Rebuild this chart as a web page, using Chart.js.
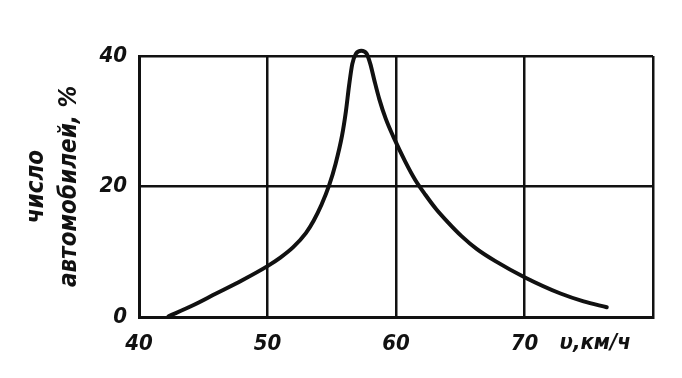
<!DOCTYPE html>
<html>
<head>
<meta charset="utf-8">
<script src="https://cdn.jsdelivr.net/npm/chart.js@4"></script>
<style>
  html, body { margin: 0; padding: 0; background: #fff; }
  #wrap { width: 682px; height: 378px; }
</style>
</head>
<body>
<div id="wrap"><canvas id="c" width="682" height="378"></canvas></div>
<script>
// Speed, km/h
const speeds = [42.3, 44.0, 46.0, 48.0, 50.0, 51.0, 52.0, 53.0, 53.6, 54.2, 54.8, 55.3, 55.8, 56.1, 56.35, 56.6, 56.9, 57.3, 57.7, 58.0, 58.3, 58.7, 59.2, 59.8, 60.7, 61.5, 62.3, 63.1, 64.1, 65.1, 66.3, 67.7, 70.0, 72.8, 74.6, 76.4];
// Number of cars, %
const shares = [0.1, 1.6, 3.6, 5.6, 7.8, 9.1, 10.7, 12.9, 14.8, 17.2, 20.2, 23.5, 27.8, 31.5, 35.5, 38.8, 40.4, 40.8, 40.4, 38.8, 36.4, 33.4, 30.4, 27.6, 23.9, 21.0, 18.7, 16.6, 14.4, 12.4, 10.4, 8.6, 6.1, 3.6, 2.4, 1.5];
const xTicks = [40, 50, 60, 70, 80];
const yTicks = [0, 20, 40];
const yTitle = ['число', 'автомобилей, %'];
const xTitle = 'υ,км/ч';

const FONT = '"DejaVu Sans Condensed", "Liberation Sans Narrow", "DejaVu Sans", sans-serif';

const xTitlePlugin = {
  id: 'xTitle',
  afterDraw(chart) {
    const ctx = chart.ctx;
    const xs = chart.scales.x;
    ctx.save();
    ctx.font = 'italic bold 22px ' + FONT;
    ctx.fillStyle = '#111';
    ctx.textAlign = 'center';
    ctx.textBaseline = 'middle';
    ctx.fillText(xTitle, xs.getPixelForValue(75.5), chart.chartArea.bottom + 26);
    ctx.restore();
  }
};

new Chart(document.getElementById('c'), {
  type: 'scatter',
  data: {
    datasets: [{
      data: speeds.map((v, i) => ({ x: v, y: shares[i] })),
      showLine: true,
      borderColor: '#111',
      borderWidth: 4,
      pointRadius: 0,
      cubicInterpolationMode: 'monotone',
      clip: 8,
      borderCapStyle: 'round',
      borderJoinStyle: 'round'
    }]
  },
  options: {
    responsive: false,
    animation: false,
    events: [],
    layout: { padding: { top: 56, right: 29, left: 0, bottom: 0 } },
    plugins: { legend: { display: false }, tooltip: { enabled: false } },
    scales: {
      x: {
        type: 'linear',
        min: 40, max: 80,
        afterBuildTicks: (s) => { s.ticks = xTicks.map(v => ({ value: v })); },
        afterFit: (s) => { s.height = 61; },
        grid: { color: '#111', lineWidth: 2.5, drawTicks: false },
        border: { color: '#111', width: 3 },
        ticks: {
          padding: 14,
          color: '#111',
          font: { family: FONT, size: 22, style: 'italic', weight: 'bold' },
          callback: (v) => (v === 80 ? '' : String(v)),
          maxRotation: 0
        }
      },
      y: {
        min: 0, max: 40,
        afterBuildTicks: (s) => { s.ticks = yTicks.map(v => ({ value: v })); },
        afterFit: (s) => { s.width = 139; },
        grid: { color: '#111', lineWidth: 2.5, drawTicks: false },
        border: { color: '#111', width: 3 },
        ticks: {
          padding: 12,
          color: '#111',
          font: { family: FONT, size: 22, style: 'italic', weight: 'bold' }
        },
        title: {
          display: true,
          text: yTitle,
          color: '#111',
          font: { family: FONT, size: 24, style: 'italic', weight: 'bold', lineHeight: 1.375 },
          padding: { top: 20, bottom: 0 }
        }
      }
    }
  },
  plugins: [xTitlePlugin]
});
</script>
</body>
</html>
